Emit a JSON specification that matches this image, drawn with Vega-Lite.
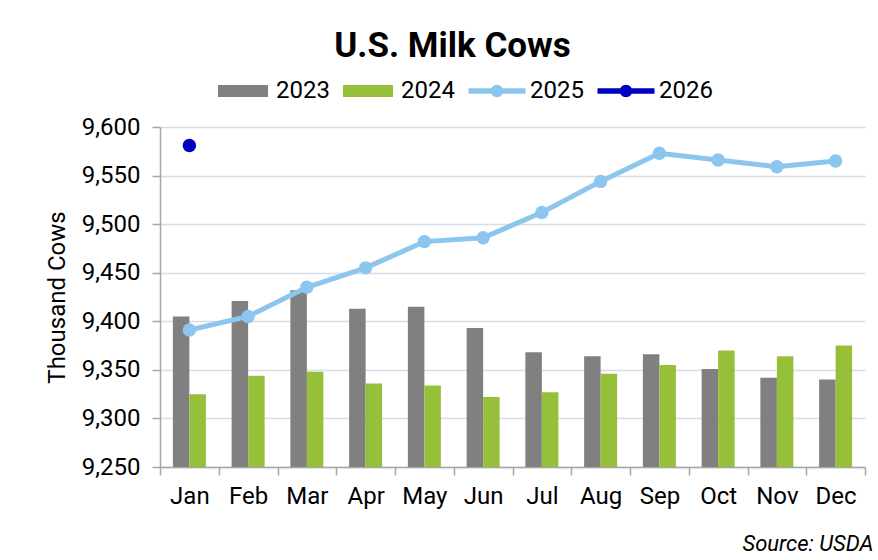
{
  "$schema": "https://vega.github.io/schema/vega-lite/v6.json",
  "width": 705,
  "height": 340,
  "autosize": {"type": "none"},
  "padding": {"left": 160, "top": 127, "right": 13, "bottom": 93},
  "background": "white",
  "config": {"view": {"stroke": null}, "font": "Roboto"},
  "title": {
    "text": "U.S. Milk Cows",
    "font": "Roboto",
    "fontSize": 35,
    "fontWeight": "bold",
    "color": "black",
    "anchor": "middle",
    "dx": -60,
    "offset": 2
  },
  "data": {
    "values": [
      {"month": "Jan", "year": "2023", "value": 9405},
      {"month": "Feb", "year": "2023", "value": 9421},
      {"month": "Mar", "year": "2023", "value": 9432},
      {"month": "Apr", "year": "2023", "value": 9413},
      {"month": "May", "year": "2023", "value": 9415},
      {"month": "Jun", "year": "2023", "value": 9393},
      {"month": "Jul", "year": "2023", "value": 9368},
      {"month": "Aug", "year": "2023", "value": 9364},
      {"month": "Sep", "year": "2023", "value": 9366},
      {"month": "Oct", "year": "2023", "value": 9351},
      {"month": "Nov", "year": "2023", "value": 9342},
      {"month": "Dec", "year": "2023", "value": 9340},
      {"month": "Jan", "year": "2024", "value": 9325},
      {"month": "Feb", "year": "2024", "value": 9344},
      {"month": "Mar", "year": "2024", "value": 9348},
      {"month": "Apr", "year": "2024", "value": 9336},
      {"month": "May", "year": "2024", "value": 9334},
      {"month": "Jun", "year": "2024", "value": 9322},
      {"month": "Jul", "year": "2024", "value": 9327},
      {"month": "Aug", "year": "2024", "value": 9346},
      {"month": "Sep", "year": "2024", "value": 9355},
      {"month": "Oct", "year": "2024", "value": 9370},
      {"month": "Nov", "year": "2024", "value": 9364},
      {"month": "Dec", "year": "2024", "value": 9375},
      {"month": "Jan", "year": "2025", "value": 9391},
      {"month": "Feb", "year": "2025", "value": 9405},
      {"month": "Mar", "year": "2025", "value": 9435},
      {"month": "Apr", "year": "2025", "value": 9455},
      {"month": "May", "year": "2025", "value": 9482},
      {"month": "Jun", "year": "2025", "value": 9486},
      {"month": "Jul", "year": "2025", "value": 9512},
      {"month": "Aug", "year": "2025", "value": 9544},
      {"month": "Sep", "year": "2025", "value": 9573},
      {"month": "Oct", "year": "2025", "value": 9566},
      {"month": "Nov", "year": "2025", "value": 9559},
      {"month": "Dec", "year": "2025", "value": 9565},
      {"month": "Jan", "year": "2026", "value": 9581}
    ]
  },
  "encoding": {
    "x": {
      "field": "month",
      "type": "nominal",
      "sort": ["Jan", "Feb", "Mar", "Apr", "May", "Jun", "Jul", "Aug", "Sep", "Oct", "Nov", "Dec"],
      "scale": {"paddingInner": 0, "paddingOuter": 0},
      "axis": {
        "labelAngle": 0,
        "labelFont": "Roboto",
        "labelFontSize": 24,
        "labelColor": "black",
        "labelPadding": 9,
        "tickSize": 8,
        "tickBand": "extent",
        "tickColor": "#a6a6a6",
        "tickWidth": 1.5,
        "domainColor": "#a6a6a6",
        "domainWidth": 1.5,
        "grid": false,
        "title": "Source: USDA",
        "titleFont": "Roboto",
        "titleFontSize": 22,
        "titleFontStyle": "italic",
        "titleFontWeight": "normal",
        "titleColor": "black",
        "titleAnchor": "end",
        "titleAlign": "right",
        "titleBaseline": "alphabetic",
        "titleX": 713,
        "titleY": 83
      }
    },
    "y": {
      "field": "value",
      "type": "quantitative",
      "scale": {"domain": [9250, 9600], "nice": false, "zero": false},
      "axis": {
        "values": [9250, 9300, 9350, 9400, 9450, 9500, 9550, 9600],
        "format": ",.0f",
        "title": "Thousand Cows",
        "titleFont": "Roboto",
        "titleFontSize": 24,
        "titleFontWeight": "normal",
        "titleColor": "black",
        "titlePadding": 12,
        "labelFont": "Roboto",
        "labelFontSize": 24,
        "labelColor": "black",
        "labelPadding": 12,
        "tickSize": 8,
        "tickColor": "#a6a6a6",
        "tickWidth": 1.5,
        "domainColor": "#a6a6a6",
        "domainWidth": 1.5,
        "gridColor": "#d5dcea",
        "gridWidth": 1.5
      }
    },
    "color": {
      "field": "year",
      "type": "nominal",
      "scale": {
        "domain": ["2023", "2024", "2025", "2026"],
        "range": ["#808080", "#96c03a", "#8cc6ee", "#0000c0"]
      },
      "legend": {
        "orient": "none",
        "legendX": 58,
        "legendY": -61,
        "direction": "horizontal",
        "title": null,
        "padding": 0,
        "labelFont": "Roboto",
        "labelFontSize": 24,
        "labelColor": "black",
        "labelOffset": 8,
        "columnPadding": 13,
        "symbolSize": 2500,
        "symbolStrokeWidth": 0,
        "encode": {
          "symbols": {
            "update": {
              "shape": {"signal": "datum.value < '2025' ? 'M-1,-0.24H1V0.24H-1Z' : 'M-1.14,-0.11H1.14V0.11H-1.14Z M-0.25,0A0.25,0.25 0 1,1 0.25,0A0.25,0.25 0 1,1 -0.25,0Z'"},
              "fill": {"scale": "color", "field": "value"},
              "opacity": {"value": 1},
              "fillOpacity": {"value": 1},
              "strokeWidth": {"value": 0}
            }
          }
        }
      }
    }
  },
  "layer": [
    {
      "transform": [{"filter": "datum.year == '2023' || datum.year == '2024'"}],
      "mark": {"type": "bar", "opacity": 1},
      "encoding": {
        "y2": {"datum": 9250},
        "xOffset": {
          "field": "year",
          "type": "nominal",
          "scale": {"domain": ["2023", "2024"], "paddingInner": 0, "paddingOuter": 0.78}
        }
      }
    },
    {
      "transform": [{"filter": "datum.year == '2025'"}],
      "mark": {"type": "line", "strokeWidth": 5}
    },
    {
      "transform": [{"filter": "datum.year == '2025' || datum.year == '2026'"}],
      "mark": {"type": "point", "filled": true, "size": 180, "opacity": 1}
    }
  ]
}
